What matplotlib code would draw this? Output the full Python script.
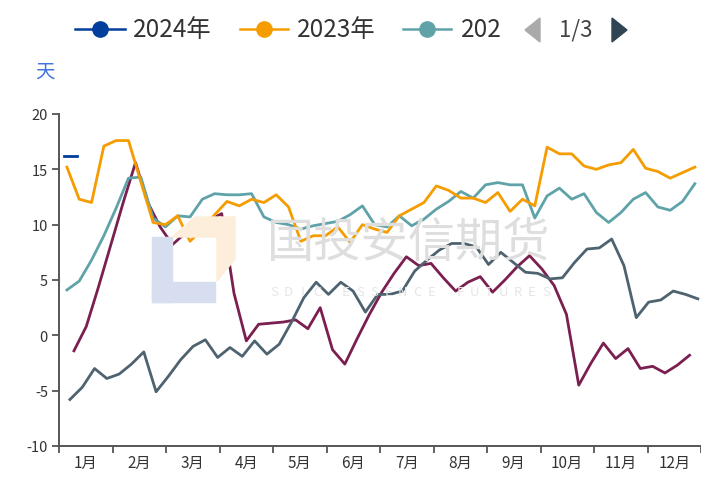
import matplotlib
matplotlib.use("Agg")
import matplotlib.pyplot as plt
from matplotlib.lines import Line2D
from matplotlib.patches import Rectangle, Polygon
import numpy as np

plt.rcParams['font.family'] = ['Noto Sans CJK SC', 'DejaVu Sans']

# ---------------- data ----------------
months = ["1月", "2月", "3月", "4月", "5月", "6月", "7月", "8月", "9月", "10月", "11月", "12月"]
y_ticks = [-10, -5, 0, 5, 10, 15, 20]
unit_label = "天"

# weekly values; first observation day-of-year per series, step 7 days
s2024_start = 3.0
s2024 = [16.2, 16.2]

s2023_start = 4.5
s2023 = [15.2, 12.3, 12.0, 17.1, 17.6, 17.6, 13.9, 10.2, 10.0, 10.8, 8.5, 9.6, 10.9,
         12.1, 11.7, 12.3, 12.0, 12.7, 11.6, 8.5, 9.0, 9.0, 9.8, 8.4, 10.0, 9.6, 9.3,
         10.8, 11.4, 12.0, 13.5, 13.1, 12.4, 12.4, 12.0, 12.9, 11.2, 12.3, 11.7, 17.0,
         16.4, 16.4, 15.3, 15.0, 15.4, 15.6, 16.8, 15.1, 14.8, 14.2, 14.7, 15.2]

s2022_start = 4.5
s2022 = [4.1, 4.9, 6.8, 9.0, 11.5, 14.2, 14.3, 10.6, 9.8, 10.8, 10.7, 12.3, 12.8,
         12.7, 12.7, 12.8, 10.7, 10.2, 10.0, 9.6, 9.9, 10.1, 10.3, 10.9, 11.7, 10.0,
         9.8, 10.8, 9.9, 10.5, 11.4, 12.1, 13.0, 12.4, 13.6, 13.8, 13.6, 13.6, 10.6,
         12.6, 13.3, 12.3, 12.8, 11.1, 10.2, 11.1, 12.3, 12.9, 11.6, 11.3, 12.1, 13.7]

s2021_start = 6.2
s2021 = [-5.8, -4.7, -3.0, -3.9, -3.5, -2.6, -1.5, -5.1, -3.7, -2.2, -1.0, -0.4, -2.0,
         -1.1, -1.9, -0.5, -1.7, -0.8, 1.2, 3.4, 4.8, 3.7, 4.8, 4.0, 2.1, 3.7, 3.7,
         4.0, 5.8, 6.8, 7.7, 8.3, 8.3, 8.0, 6.4, 7.5, 6.6, 5.7, 5.6, 5.1, 5.2, 6.6,
         7.8, 7.9, 8.7, 6.3, 1.6, 3.0, 3.2, 4.0, 3.7, 3.3]

s2020_start = 8.5
s2020 = [-1.4, 0.8, 4.4, 8.2, 12.0, 15.6, 12.0, 9.8, 8.2, 9.2, 10.2, 10.4, 11.0, 3.8,
         -0.5, 1.0, 1.1, 1.2, 1.4, 0.6, 2.5, -1.3, -2.6, -0.3, 1.9, 3.9, 5.6, 7.1,
         6.3, 6.5, 5.2, 4.0, 4.8, 5.3, 3.9, 5.0, 6.2, 7.2, 6.0, 4.5, 1.9, -4.5, -2.5,
         -0.7, -2.1, -1.2, -3.0, -2.8, -3.4, -2.7, -1.8]

legend_names = ["2024年", "2023年", "202"]
page_text = "1/3"

c2024 = "#023f9c"
c2023 = "#f59c00"
c2022 = "#5fa3a9"
c2021 = "#4e636f"
c2020 = "#7b1f50"


def xs(start, n):
    # day-of-year -> month units (12 months over 365 days)
    return (start + 7 * np.arange(n)) / 365.0 * 12.0


W, H = 701, 481
fig = plt.figure(figsize=(W / 100, H / 100), dpi=100)
ax = fig.add_axes([59 / W, 1 - 447 / H, (701 - 59) / W, (447 - 115) / H])


def fx(px):
    return px / W


def fy(py):
    return 1 - py / H


# ---------------- watermark ----------------
wm_blue = "#d6def0"
wm_org = "#fdeedb"
fig.patches.append(Rectangle((fx(152), fy(303)), fx(172) - fx(152), fy(238) - fy(303),
                             transform=fig.transFigure, color=wm_blue, zorder=0))
fig.patches.append(Rectangle((fx(152), fy(303)), fx(215) - fx(152), fy(283) - fy(303),
                             transform=fig.transFigure, color=wm_blue, zorder=0))
fig.patches.append(Polygon([(fx(172), fy(238)), (fx(195), fy(218)), (fx(235), fy(218)),
                            (fx(235), fy(260)), (fx(217), fy(282)), (fx(217), fy(238))],
                           closed=True, transform=fig.transFigure, color=wm_org, zorder=0))
fig.text(fx(409), fy(244), "国投安信期货", fontsize=34, color="#dedede",
         ha="center", va="center", zorder=0)
wm_sub = "SDIC ESSENCE FUTURES"
for k, ch in enumerate(wm_sub):
    fig.text(fx(274 + k * (546 - 274) / (len(wm_sub) - 1)), fy(292), ch, fontsize=9.5,
             color="#e6e6e6", ha="center", va="center", zorder=0)
ax.set_facecolor("none")

# ---------------- lines ----------------
lw = 2.0
ax.plot(xs(s2020_start, len(s2020)), s2020, color=c2020, lw=lw, zorder=3)
ax.plot(xs(s2021_start, len(s2021)), s2021, color=c2021, lw=lw, zorder=3)
ax.plot(xs(s2022_start, len(s2022)), s2022, color=c2022, lw=lw, zorder=4)
ax.plot(xs(s2023_start, len(s2023)), s2023, color=c2023, lw=lw, zorder=5)
ax.plot(xs(s2024_start, len(s2024)), s2024, color=c2024, lw=lw, zorder=6)

# ---------------- axes ----------------
ax.set_xlim(0, 12)
ax.set_ylim(-10, 20)
ax.set_yticks(y_ticks)
ax.set_yticklabels([str(v) for v in y_ticks])
ax.set_xticks(np.arange(0, 13))
ax.set_xticklabels([""] * 13)
ax.set_xticks(np.arange(12) + 0.5, minor=True)
ax.set_xticklabels(months, minor=True)
ax.tick_params(axis="x", which="major", direction="out", length=5, width=1.3, color="#555555")
ax.tick_params(axis="x", which="minor", length=0, pad=6, labelsize=11, labelcolor="#333333")
ax.tick_params(axis="y", direction="out", length=5, width=1.3, color="#555555",
               labelsize=10.5, labelcolor="#333333", pad=3)
for s in ["top", "right"]:
    ax.spines[s].set_visible(False)
for s in ["left", "bottom"]:
    ax.spines[s].set_color("#555555")
    ax.spines[s].set_linewidth(1.4)

fig.text(fx(45), fy(72), unit_label, fontsize=14, color="#4274e0", ha="center", va="center")

# ---------------- legend ----------------
ly = fy(30)
items = [(75, 125, c2024, 133, legend_names[0]),
         (240, 288, c2023, 297, legend_names[1]),
         (403, 451, c2022, 461, legend_names[2])]
for x0, x1, c, tx, name in items:
    fig.add_artist(Line2D([fx(x0), fx(x1)], [ly, ly], transform=fig.transFigure,
                          color=c, lw=1.8))
    fig.add_artist(Line2D([fx((x0 + x1) / 2)], [ly], transform=fig.transFigure,
                          marker="o", markersize=11, color=c, lw=0))
    fig.text(fx(tx), ly, name, fontsize=17.5, color="#333333", ha="left", va="center")

fig.patches.append(Polygon([(fx(540), fy(19)), (fx(540), fy(43)), (fx(525), fy(31))],
                           closed=True, transform=fig.transFigure, color="#aaaaaa"))
fig.text(fx(576), ly, page_text, fontsize=16, color="#444444", ha="center", va="center")
fig.patches.append(Polygon([(fx(612), fy(19)), (fx(612), fy(43)), (fx(627), fy(31))],
                           closed=True, transform=fig.transFigure, color="#2f4554"))

fig.savefig("out.png", dpi=100)
